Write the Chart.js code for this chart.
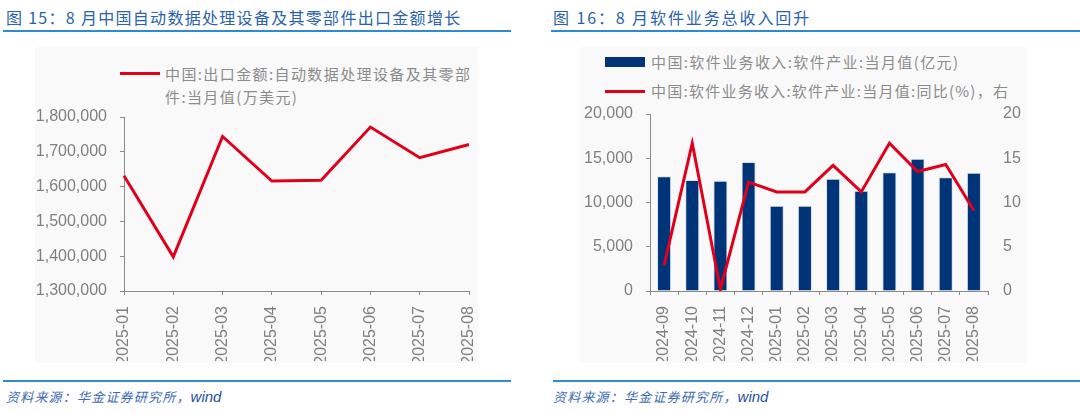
<!DOCTYPE html>
<html>
<head>
<meta charset="utf-8">
<script src="https://cdn.jsdelivr.net/npm/chart.js@4.4.1/dist/chart.umd.min.js"></script>
<style>
  body { margin: 0; width: 1080px; height: 414px; background: #fff; position: relative; overflow: hidden;
         font-family: "Noto Sans CJK SC", "Liberation Sans", sans-serif; }
  .title { position: absolute; top: 6px; font-size: 16px; line-height: 22px; color: #2a62ad; white-space: nowrap; }
  .rule { position: absolute; height: 2px; background: #2f8ad2; }
  .src { position: absolute; top: 387px; font-size: 13px; line-height: 20px; color: #3d6cb4; font-style: italic; letter-spacing: 1.2px; white-space: nowrap; }
  .src b { color: #1d4fa3; font-family: "Liberation Sans", sans-serif; font-weight: normal; letter-spacing: 0; font-size: 15px; }
  .panel { position: absolute; background: #f9f9f9; }
  .leg { position: absolute; font-size: 15px; line-height: 23px; color: #8c8c8c; letter-spacing: 1.4px; white-space: nowrap; }
  .mark { position: absolute; }
  canvas { position: absolute; }
</style>
</head>
<body>
<div class="title" style="left:6px; letter-spacing:1.3px">图 15：8 月中国自动数据处理设备及其零部件出口金额增长</div>
<div class="rule" style="left:3px; width:508px; top:30px"></div>
<div class="title" style="left:553px; letter-spacing:1.9px">图 16：8 月软件业务总收入回升</div>
<div class="rule" style="left:551px; width:529px; top:30px"></div>

<div class="panel" style="left:35px; top:47px; width:443px; height:316px"></div>
<div class="panel" style="left:580px; top:47px; width:447px; height:316px"></div>

<div class="mark" style="left:120px; top:72px; width:40px; height:3px; background:#e0001b"></div>
<div class="leg" style="left:165px; top:62px">中国:出口金额:自动数据处理设备及其零部<br>件:当月值(万美元)</div>

<div class="mark" style="left:605px; top:57px; width:40px; height:10px; background:#003478"></div>
<div class="leg" style="left:651px; top:50px">中国:软件业务收入:软件产业:当月值(亿元)</div>
<div class="mark" style="left:605px; top:90px; width:40px; height:3px; background:#e0001b"></div>
<div class="leg" style="left:651px; top:79px; letter-spacing:1.25px">中国:软件业务收入:软件产业:当月值:同比(%)，右</div>

<canvas id="chartExport" width="530" height="270" style="left:0; top:100px"></canvas>
<canvas id="chartSoftware" width="540" height="270" style="left:540px; top:100px"></canvas>

<div class="rule" style="left:3px; width:508px; top:380px"></div>
<div class="rule" style="left:553px; width:527px; top:380px"></div>
<div class="src" style="left:6px">资料来源：华金证券研究所，<b>wind</b></div>
<div class="src" style="left:553px">资料来源：华金证券研究所，<b>wind</b></div>

<script>
const exportMonths = ['2025-01', '2025-02', '2025-03', '2025-04', '2025-05', '2025-06', '2025-07', '2025-08'];
const exportValues = [1631000, 1398000, 1744000, 1616000, 1618000, 1771000, 1683000, 1721000];

const softwareMonths = ['2024-09', '2024-10', '2024-11', '2024-12', '2025-01', '2025-02', '2025-03', '2025-04', '2025-05', '2025-06', '2025-07', '2025-08'];
const softwareRevenue = [12960, 12540, 12470, 14580, 9640, 9640, 12690, 11340, 13410, 14950, 12840, 13370];
const softwareYoY = [2.9, 16.7, 0.2, 12.3, 11.2, 11.2, 14.2, 11.2, 16.7, 13.5, 14.3, 9.1];

const tickFont = { size: 16, family: 'Liberation Sans' };
const tickColor = '#7f7f7f';
const axisColor = '#8a8a8a';

// fixed axis width, and keep the tick padding from pushing the plot down
function fixY(width) {
  return function (scale) {
    scale.width = width;
    scale.paddingTop = 10;
    scale.paddingBottom = 10;
  };
}

const ctx = document.getElementById('chartExport');

new Chart(ctx, {
  type: 'line',
  data: {
    labels: exportMonths,
    datasets: [{
      label: '中国:出口金额:自动数据处理设备及其零部件:当月值(万美元)',
      data: exportValues,
      borderColor: '#e0001b',
      borderWidth: 3,
      pointRadius: 0,
      tension: 0
    }]
  },
  options: {
    responsive: false,
    animation: false,
    layout: { padding: { left: 14, right: 61, top: 17, bottom: 9 } },
    plugins: { legend: { display: false }, tooltip: { enabled: false } },
    scales: {
      x: {
        offset: false,
        grid: { drawOnChartArea: false, tickLength: 4, color: axisColor },
        border: { color: axisColor },
        ticks: { autoSkip: false, minRotation: 90, maxRotation: 90, padding: 11, color: tickColor, font: tickFont },
        afterFit(scale) { scale.height = 70; }
      },
      y: {
        min: 1300000,
        max: 1800000,
        grid: { drawOnChartArea: false, tickLength: 4, color: axisColor },
        border: { color: axisColor },
        ticks: {
          stepSize: 100000, padding: 13, color: tickColor, font: tickFont,
          callback: v => v.toLocaleString('en-US')
        },
        afterFit: fixY(110)
      }
    }
  }
});

const ctx2 = document.getElementById('chartSoftware');

new Chart(ctx2, {
  type: 'bar',
  data: {
    labels: softwareMonths,
    datasets: [{
      type: 'line',
      label: '中国:软件业务收入:软件产业:当月值:同比(%)',
      data: softwareYoY,
      yAxisID: 'y1',
      borderColor: '#e0001b',
      borderWidth: 3,
      pointRadius: 0,
      tension: 0,
      order: 0
    }, {
      label: '中国:软件业务收入:软件产业:当月值(亿元)',
      data: softwareRevenue,
      yAxisID: 'y',
      backgroundColor: '#003478',
      borderColor: 'rgba(200, 212, 230, 0.7)',
      borderWidth: 1,
      categoryPercentage: 1,
      barPercentage: 0.5,
      order: 1
    }]
  },
  options: {
    responsive: false,
    animation: false,
    layout: { padding: { left: 10, right: 32, top: 14, bottom: 9 } },
    plugins: { legend: { display: false }, tooltip: { enabled: false } },
    scales: {
      x: {
        grid: { drawOnChartArea: false, tickLength: 4, color: axisColor },
        border: { color: axisColor },
        ticks: { autoSkip: false, minRotation: 90, maxRotation: 90, padding: 11, color: tickColor, font: tickFont },
        afterFit(scale) { scale.height = 70; }
      },
      y: {
        position: 'left',
        min: 0,
        max: 20000,
        grid: { drawOnChartArea: false, tickLength: 4, color: axisColor },
        border: { color: axisColor },
        ticks: {
          stepSize: 5000, padding: 13, color: tickColor, font: tickFont,
          callback: v => v.toLocaleString('en-US')
        },
        afterFit: fixY(100)
      },
      y1: {
        position: 'right',
        min: 0,
        max: 20,
        grid: { drawOnChartArea: false, drawTicks: false },
        border: { display: false },
        ticks: { stepSize: 5, padding: 15, color: tickColor, font: tickFont },
        afterFit: fixY(60)
      }
    }
  }
});
</script>
</body>
</html>
